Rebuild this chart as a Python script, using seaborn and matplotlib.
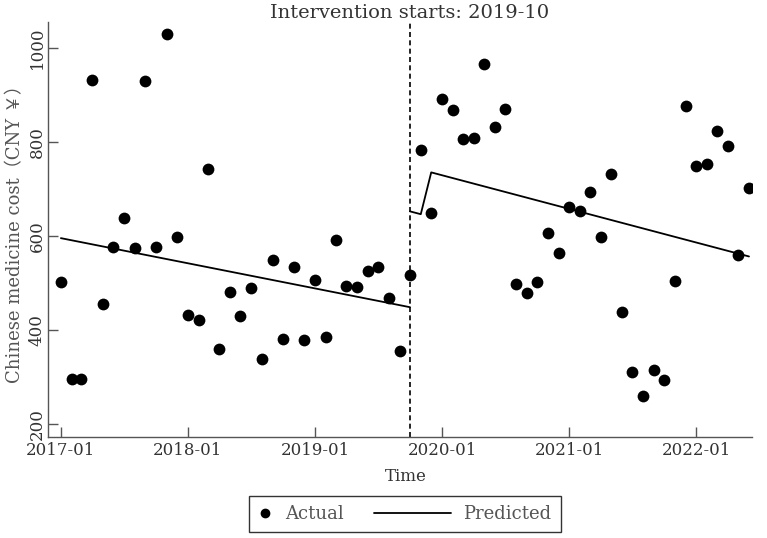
import pandas as pd
import matplotlib
matplotlib.use('Agg')
import matplotlib.pyplot as plt
import matplotlib.dates as mdates
from matplotlib.lines import Line2D
from matplotlib.legend_handler import HandlerBase
import seaborn as sns

# === DATA ===
months = pd.date_range('2017-01-01', '2022-06-01', freq='MS')
actual = [501, 296, 296, 932, 455, 577, 637, 573, 930, 577, 1029, 598,
          432, 421, 742, 360, 480, 429, 488, 337, 548, 380, 533, 379,
          505, 384, 591, 494, 491, 525, 533, 467, 355, 516, 782, 648,
          891, 867, 806, 808, 966, 831, 869, 498, 478, 501, 605, 564,
          661, 652, 693, 597, 731, 438, 311, 258, 315, 294, 503, 877,
          749, 753, 823, 791, 560, 702]

# predicted trend, pre and post intervention (vertices only)
pre_dates = ['2017-01-01', '2019-10-01']
pre_pred = [595, 448]
post_dates = ['2019-10-01', '2019-11-01', '2019-12-01', '2022-06-01']
post_pred = [652, 646, 735, 556]

intervention = '2019-10-01'
x_ticks = ['2017-01-01', '2018-01-01', '2019-01-01', '2020-01-01', '2021-01-01', '2022-01-01']
y_ticks = [200, 400, 600, 800, 1000]

df = pd.DataFrame({'month': months, 'cost': actual})
pre_df = pd.DataFrame({'month': pd.to_datetime(pre_dates), 'pred': pre_pred})
post_df = pd.DataFrame({'month': pd.to_datetime(post_dates), 'pred': post_pred})


# legend line handle that reaches back into the column gap
class LongLine(HandlerBase):
    def create_artists(self, legend, orig_handle, xdescent, ydescent,
                       width, height, fontsize, trans):
        y = (height - ydescent) / 2.0
        line = Line2D([-xdescent - 3.5 * fontsize, width - xdescent], [y, y],
                      color='black', lw=1.3, transform=trans)
        return [line]


# === STYLE ===
sns.set_style('ticks')
plt.rcParams['font.family'] = ['DejaVu Serif', 'Noto Sans CJK SC']

fig = plt.figure(figsize=(7.67, 5.38), dpi=100)
ax = fig.add_axes([0.0626, 0.188, 0.918, 0.771])

# === PLOT ===
sns.scatterplot(data=df, x='month', y='cost', color='black', s=72, linewidth=0,
                ax=ax, legend=False, zorder=3)
sns.lineplot(data=pre_df, x='month', y='pred', color='black', lw=1.3,
             estimator=None, ax=ax, legend=False)
sns.lineplot(data=post_df, x='month', y='pred', color='black', lw=1.3,
             estimator=None, ax=ax, legend=False)

ax.axvline(pd.Timestamp(intervention), color='black', ls=(0, (3, 2)), lw=1.2)
ax.text(pd.Timestamp(intervention), 1.0, 'Intervention starts: 2019-10',
        transform=ax.get_xaxis_transform(), ha='center', va='bottom',
        fontsize=14, color='#333333')

ax.set_xlim(pd.Timestamp('2016-11-25'), pd.Timestamp('2022-06-10'))
ax.set_ylim(172, 1055)
ax.set_xticks(pd.to_datetime(x_ticks))
ax.xaxis.set_major_formatter(mdates.DateFormatter('%Y-%m'))
ax.set_yticks(y_ticks)

ax.tick_params(direction='in', length=7, width=1, color='#555555',
               labelcolor='#333333', labelsize=12)
ax.tick_params(axis='y', labelrotation=90, pad=1.5)
for lab in ax.get_yticklabels():
    lab.set_va('center')

ax.set_xlabel('Time', fontsize=12, color='#333333', labelpad=7)
ax.xaxis.label.set_x(0.508)
ax.set_ylabel('Chinese medicine cost（CNY ￥）', fontsize=13, color='#555555', labelpad=3)

sns.despine(ax=ax)
for s in ['left', 'bottom']:
    ax.spines[s].set_color('#555555')
    ax.spines[s].set_linewidth(1)

handles = [Line2D([], [], marker='o', color='black', ls='none', markersize=6),
           Line2D([], [], color='black', lw=1.3)]
leg = fig.legend(handles, ['Actual', 'Predicted'], loc='center',
                 bbox_to_anchor=(405 / 767, 1 - 514 / 538), ncol=2,
                 frameon=True, fancybox=False, edgecolor='black',
                 fontsize=13, handlelength=0.75, columnspacing=5.2,
                 handletextpad=0.7, borderpad=0.5,
                 handler_map={handles[1]: LongLine()})
leg.get_frame().set_linewidth(1)
for t in leg.get_texts():
    t.set_color('#555555')

fig.savefig('out.png', dpi=100)
